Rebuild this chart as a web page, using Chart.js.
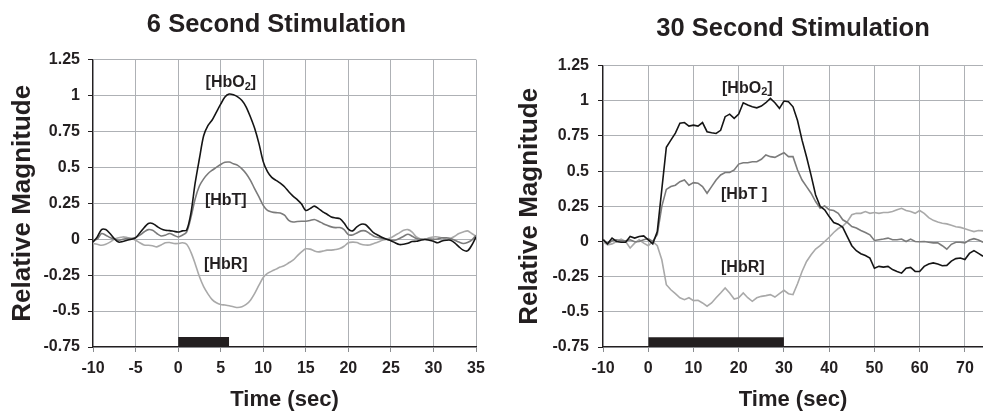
<!DOCTYPE html>
<html>
<head>
<meta charset="utf-8">
<title>Stimulation response</title>
<script src="https://cdn.jsdelivr.net/npm/chart.js@4.4.0/dist/chart.umd.min.js"></script>
<style>
  html, body { margin: 0; padding: 0; background: #fff; overflow: hidden; }
  .panel { position: absolute; top: 0; height: 414px; }
  #left { left: 0; width: 553px; }
  #right { left: 490px; width: 493px; }
</style>
</head>
<body>
<div class="panel" id="left"><canvas id="shortChart"></canvas></div>
<div class="panel" id="right"><canvas id="longChart"></canvas></div>
<script>
// 6 s stimulation, one sample every 0.5 s from -10 s to 35 s
var shortStep = 0.5;
var hbo2Short = [-0.02, 0.016, 0.067, 0.067, 0.04, 0.005, -0.02, -0.016, -0.007, 0,
  0.01, 0.044, 0.08, 0.11, 0.11, 0.09, 0.072, 0.062, 0.06, 0.055,
  0.05, 0.058, 0.063, 0.18, 0.39, 0.56, 0.72, 0.79, 0.83, 0.885,
  0.94, 0.99, 1.01, 1.005, 0.99, 0.965, 0.92, 0.85, 0.77, 0.665,
  0.54, 0.47, 0.43, 0.41, 0.39, 0.365, 0.33, 0.3, 0.275, 0.245,
  0.2, 0.213, 0.23, 0.213, 0.19, 0.174, 0.155, 0.148, 0.143, 0.113,
  0.07, 0.058, 0.086, 0.104, 0.102, 0.074, 0.044, 0.028, 0.012, 0,
  -0.01, -0.025, -0.037, -0.035, -0.028, -0.016, -0.014, -0.007, -0.002, -0.007,
  -0.014, -0.025, -0.012, -0.007, -0.007, -0.025, -0.053, -0.076, -0.081, -0.042,
  0.016];
var hbtShort = [-0.007, 0, 0.04, 0.028, 0.012, 0, -0.007, 0, 0.005, 0.005,
  0.012, 0.028, 0.05, 0.067, 0.062, 0.04, 0.023, 0.028, 0.04, 0.028,
  0.016, 0.028, 0.05, 0.15, 0.28, 0.37, 0.42, 0.456, 0.48, 0.5,
  0.52, 0.535, 0.537, 0.525, 0.514, 0.49, 0.456, 0.41, 0.35, 0.294,
  0.236, 0.2, 0.19, 0.185, 0.183, 0.167, 0.132, 0.12, 0.123, 0.125,
  0.125, 0.13, 0.137, 0.125, 0.11, 0.097, 0.086, 0.081, 0.081, 0.067,
  0.032, 0.03, 0.044, 0.058, 0.058, 0.04, 0.021, 0.012, 0.005, 0,
  -0.007, -0.007, 0.005, 0.021, 0.035, 0.021, 0.005, 0, 0, 0.002,
  0, 0.002, 0.01, 0.01, 0.005, -0.007, -0.02, -0.03, -0.023, -0.007,
  0.028];
var hbrShort = [-0.03, -0.035, -0.042, -0.035, -0.02, 0, 0.01, 0.016, 0.012, 0.005,
  -0.007, -0.025, -0.04, -0.042, -0.046, -0.053, -0.04, -0.025, -0.023, -0.03,
  -0.03, -0.025, -0.035, -0.09, -0.17, -0.26, -0.33, -0.38, -0.42, -0.442,
  -0.454, -0.458, -0.463, -0.47, -0.475, -0.47, -0.454, -0.424, -0.377, -0.32,
  -0.266, -0.238, -0.222, -0.208, -0.194, -0.183, -0.164, -0.146, -0.116, -0.088,
  -0.067, -0.069, -0.081, -0.088, -0.083, -0.076, -0.076, -0.072, -0.065, -0.049,
  -0.025, -0.02, -0.023, -0.035, -0.04, -0.04, -0.03, -0.02, -0.007, 0,
  0.01, 0.028, 0.044, 0.062, 0.067, 0.05, 0.016, 0.002, 0, 0.01,
  0.016, 0.016, 0.01, 0.002, 0.005, 0.021, 0.04, 0.05, 0.058, 0.04,
  0.021];

// 30 s stimulation, one sample per second from -10 s to 74 s
var longStep = 1;
var hbo2Long = [0.012, -0.017, 0.024, 0, -0.005, -0.005, 0.035, 0.024, 0.035, 0.04,
  0.012, -0.017, 0.07, 0.37, 0.67, 0.72, 0.77, 0.84, 0.845, 0.82,
  0.827, 0.82, 0.845, 0.78, 0.773, 0.768, 0.79, 0.887, 0.905, 0.875,
  0.905, 0.986, 0.97, 0.957, 0.95, 0.962, 0.986, 1.017, 0.986, 0.946,
  0.998, 0.993, 0.957, 0.86, 0.72, 0.6, 0.47, 0.33, 0.25, 0.225,
  0.177, 0.135, 0.123, 0.1, 0.035, -0.03, -0.066, -0.087, -0.1, -0.118,
  -0.19, -0.177, -0.182, -0.177, -0.2, -0.213, -0.225, -0.19, -0.184, -0.213,
  -0.213, -0.177, -0.16, -0.152, -0.16, -0.172, -0.17, -0.14, -0.122, -0.118,
  -0.128, -0.085, -0.065, -0.085, -0.105];
var hbtLong = [0.017, -0.017, 0.005, 0.012, 0.005, 0.005, 0.012, -0.002, 0, 0.012,
  0.021, 0, 0.05, 0.25, 0.37, 0.39, 0.4, 0.425, 0.437, 0.4,
  0.418, 0.414, 0.39, 0.343, 0.39, 0.437, 0.473, 0.49, 0.49, 0.508,
  0.55, 0.56, 0.56, 0.567, 0.567, 0.584, 0.615, 0.603, 0.598, 0.615,
  0.631, 0.603, 0.603, 0.508, 0.437, 0.39, 0.343, 0.284, 0.236, 0.253,
  0.225, 0.22, 0.2, 0.154, 0.135, 0.106, 0.095, 0.078, 0.064, 0.047,
  0.007, 0.012, 0.017, 0.024, 0.012, 0.012, 0.017, 0, 0.017, 0,
  -0.002, 0, -0.005, -0.01, -0.01, -0.03, -0.055, -0.02, -0.005, -0.005,
  -0.01, 0.01, 0.02, 0.01, -0.005];
var hbrLong = [0, -0.024, -0.017, 0, 0.017, 0, -0.047, -0.012, 0.012, -0.012,
  -0.03, 0, -0.03, -0.13, -0.307, -0.343, -0.371, -0.4, -0.414, -0.4,
  -0.42, -0.418, -0.437, -0.46, -0.437, -0.4, -0.366, -0.33, -0.366, -0.409,
  -0.4, -0.366, -0.4, -0.425, -0.4, -0.39, -0.385, -0.378, -0.395, -0.371,
  -0.347, -0.371, -0.378, -0.3, -0.213, -0.142, -0.095, -0.054, -0.03, 0,
  0.03, 0.064, 0.092, 0.11, 0.14, 0.19, 0.2, 0.2, 0.213, 0.2,
  0.206, 0.2, 0.206, 0.206, 0.213, 0.225, 0.236, 0.22, 0.213, 0.2,
  0.22, 0.2, 0.17, 0.15, 0.138, 0.13, 0.125, 0.115, 0.105, 0.1,
  0.09, 0.08, 0.07, 0.078, 0.075];

// stimulus on/off times (sec) and axis ticks
var stimShort = [0, 6];
var stimLong = [0, 30];
var stimTop = -0.68;
var magTicks = [-0.75, -0.5, -0.25, 0, 0.25, 0.5, 0.75, 1, 1.25];
var timeTicksShort = [-10, -5, 0, 5, 10, 15, 20, 25, 30, 35];
var timeTicksLong = [-10, 0, 10, 20, 30, 40, 50, 60, 70];

var FONT = '"Liberation Sans", Arial, Helvetica, sans-serif';
var INK = '#231f20';

function toPoints(values, start, step) {
  return values.map(function (v, i) { return { x: start + i * step, y: v }; });
}

// trace names written next to the curves, e.g. [HbO2] with a subscript
var traceLabels = {
  id: 'traceLabels',
  afterDatasetsDraw: function (chart, args, opts) {
    var ctx = chart.ctx, xs = chart.scales.x, ys = chart.scales.y;
    ctx.save();
    ctx.fillStyle = INK;
    ctx.textBaseline = 'middle';
    ctx.textAlign = 'left';
    opts.items.forEach(function (item) {
      var main = 'bold 16px ' + FONT, small = 'bold 11px ' + FONT;
      ctx.font = main;
      var w1 = ctx.measureText(item.text).width;
      var w3 = ctx.measureText(item.tail).width;
      ctx.font = small;
      var w2 = item.sub ? ctx.measureText(item.sub).width : 0;
      var cx = xs.getPixelForValue(item.at[0]);
      var cy = ys.getPixelForValue(item.at[1]);
      var x0 = cx - (w1 + w2 + w3) / 2;
      ctx.font = main;
      ctx.fillText(item.text, x0, cy);
      if (item.sub) {
        ctx.font = small;
        ctx.fillText(item.sub, x0 + w1, cy + 4);
      }
      ctx.font = main;
      ctx.fillText(item.tail, x0 + w1 + w2, cy);
    });
    ctx.restore();
  }
};

function makeChart(id, cfg) {
  var series = [
    { label: 'HbO2', data: toPoints(cfg.hbo2, -10, cfg.step), borderColor: '#151515' },
    { label: 'HbT', data: toPoints(cfg.hbt, -10, cfg.step), borderColor: '#7b7b7b' },
    { label: 'HbR', data: toPoints(cfg.hbr, -10, cfg.step), borderColor: '#a9a9a9' }
  ].map(function (d) {
    d.borderWidth = 1.6;
    d.pointRadius = 0;
    d.tension = cfg.tension;
    d.fill = false;
    return d;
  });

  // stimulus block along the bottom of the plot
  series.push({
    label: 'stimulus',
    data: cfg.stim.map(function (t) { return { x: t, y: stimTop }; }),
    borderWidth: 0,
    borderColor: INK,
    backgroundColor: INK,
    pointRadius: 0,
    fill: 'start'
  });

  return new Chart(document.getElementById(id), {
    type: 'line',
    data: { datasets: series },
    plugins: [traceLabels],
    options: {
      responsive: true,
      maintainAspectRatio: false,
      animation: false,
      events: [],
      layout: { padding: 0 },
      plugins: {
        legend: { display: false },
        tooltip: { enabled: false },
        title: {
          display: true,
          text: cfg.title,
          fullSize: cfg.titleFull,
          color: INK,
          font: { family: FONT, size: 25.5, weight: 'bold', lineHeight: 1.2 },
          padding: cfg.titlePad
        },
        traceLabels: { items: cfg.labels }
      },
      scales: {
        x: {
          type: 'linear',
          min: -10,
          max: cfg.xMax,
          afterBuildTicks: function (s) { s.ticks = cfg.xTicks.map(function (v) { return { value: v }; }); },
          afterFit: function (s) { s.height = 67; },
          grid: { color: '#aeb1b5', lineWidth: 1, tickLength: 5, tickColor: '#8a8d90' },
          border: { color: INK, width: 1.2 },
          ticks: {
            color: INK, padding: 7, maxRotation: 0, autoSkip: false,
            font: { family: FONT, size: 16, weight: 'bold' },
            callback: function (v) { return String(v); }
          },
          title: {
            display: true, text: 'Time (sec)', color: INK,
            font: { family: FONT, size: 22, weight: 'bold', lineHeight: 1.2 },
            padding: { top: 0, bottom: 1 }
          }
        },
        y: {
          min: -0.75,
          max: 1.25,
          afterBuildTicks: function (s) { s.ticks = magTicks.map(function (v) { return { value: v }; }); },
          afterFit: function (s) { s.width = cfg.yWidth; },
          grid: { color: '#aeb1b5', lineWidth: 1, tickLength: 5, tickColor: INK },
          border: { color: INK, width: 1.2 },
          ticks: {
            color: INK, padding: cfg.yTickPad,
            font: { family: FONT, size: 16, weight: 'bold' },
            callback: function (v) { return String(Math.round(v * 100) / 100); }
          },
          title: {
            display: true, text: 'Relative Magnitude', color: INK,
            font: { family: FONT, size: 26, weight: 'bold', lineHeight: 1.2 },
            padding: { top: cfg.yTitlePad, bottom: 0 }
          }
        },
        // empty right-hand gutter so the plot ends before the canvas edge
        gutter: {
          position: 'right',
          display: cfg.gutter > 0,
          grid: { display: false },
          border: { display: false },
          ticks: { display: false },
          afterFit: function (s) { s.width = cfg.gutter; }
        }
      }
    }
  });
}

makeChart('shortChart', {
  title: '6 Second Stimulation',
  titleFull: true,
  titlePad: { top: 10, bottom: 19 },
  hbo2: hbo2Short, hbt: hbtShort, hbr: hbrShort,
  step: shortStep, tension: 0.3,
  stim: stimShort,
  xMax: 35, xTicks: timeTicksShort,
  gutter: 77, yWidth: 93, yTickPad: 8, yTitlePad: 7,
  labels: [
    { text: '[HbO', sub: '2', tail: ']', at: [6.2, 1.09] },
    { text: '[HbT', sub: '', tail: ']', at: [5.6, 0.27] },
    { text: '[HbR', sub: '', tail: ']', at: [5.6, -0.177] }
  ]
});

makeChart('longChart', {
  title: '30 Second Stimulation',
  titleFull: false,
  titlePad: { top: 14, bottom: 21 },
  hbo2: hbo2Long, hbt: hbtLong, hbr: hbrLong,
  step: longStep, tension: 0,
  stim: stimLong,
  xMax: 74, xTicks: timeTicksLong,
  gutter: 0, yWidth: 113, yTickPad: 9, yTitlePad: 24,
  labels: [
    { text: '[HbO', sub: '2', tail: ']', at: [21.9, 1.09] },
    { text: '[HbT', sub: '', tail: ' ]', at: [21.2, 0.332] },
    { text: '[HbR', sub: '', tail: ']', at: [20.9, -0.186] }
  ]
});
</script>
</body>
</html>
